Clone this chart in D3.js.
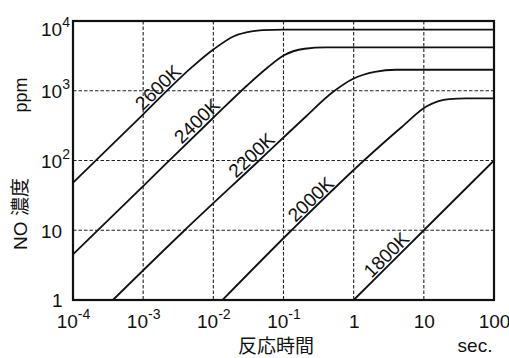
<!DOCTYPE html>
<html>
<head>
<meta charset="utf-8">
<script src="https://cdn.jsdelivr.net/npm/d3@7"></script>
<style>
  html, body { margin: 0; padding: 0; background: #fff; }
  svg { display: block; font-family: "Liberation Sans", Arial, sans-serif; }
</style>
</head>
<body>
<svg id="chart" width="509" height="358"></svg>
<script>
// NO formation vs. reaction time at several flame temperatures (log-log).
const xTickValues = [1e-4, 1e-3, 1e-2, 1e-1, 1, 10, 100];
const xTickBase = ["10", "10", "10", "10", "1", "10", "100"];
const xTickExp = ["-4", "-3", "-2", "-1", "", "", ""];
const yTickValues = [1, 10, 100, 1000, 10000];
const yTickBase = ["1", "10", "10", "10", "10"];
const yTickExp = ["", "", "2", "3", "4"];

const temperatures = ["2600K", "2400K", "2200K", "2000K", "1800K"];

// reaction time [s] and NO concentration [ppm] per temperature
const time2600 = [1e-4, 1e-3, 5e-3, 0.01, 0.02, 0.035, 0.05, 0.1, 100];
const no2600 = [48, 460, 2200, 3900, 6100, 7100, 7400, 7500, 7500];
const time2400 = [1e-4, 1e-3, 1e-2, 0.03, 0.06, 0.1, 0.2, 0.4, 100];
const no2400 = [4.5, 43, 410, 1180, 2170, 3200, 4000, 4200, 4200];
const time2200 = [3.7e-4, 3.9e-3, 0.045, 0.2, 0.5, 1, 2, 4, 100];
const no2200 = [1, 10, 100, 410, 950, 1500, 1870, 2000, 2000];
const time2000 = [0.0135, 0.13, 1.4, 4.8, 11, 23, 40, 100];
const no2000 = [1, 10, 100, 300, 600, 760, 780, 780];
const time1800 = [1, 10, 100];
const no1800 = [1, 10, 100];

// reaction time at which each temperature label sits along its curve
const labelTimes = [2.0e-3, 7.2e-3, 0.043, 0.3, 3.6];

const seriesTimes = [time2600, time2400, time2200, time2000, time1800];
const seriesNO = [no2600, no2400, no2200, no2000, no1800];

const svg = d3.select("#chart");
svg.append("rect").attr("width", 509).attr("height", 358).attr("fill", "#fff");

const plotLeft = 73, plotRight = 494, plotTop = 21, plotBottom = 300;
const x = d3.scaleLog().domain([1e-4, 100]).range([plotLeft, plotRight]);
const y = d3.scaleLog().domain([1, 1e4]).range([plotBottom, plotTop]);

// dashed grid
const grid = svg.append("g").attr("stroke", "#222").attr("stroke-width", 1.1)
  .attr("stroke-dasharray", "3.5,2");
grid.selectAll("line.v").data(xTickValues.slice(1, -1)).join("line").attr("class", "v")
  .attr("x1", d => x(d)).attr("x2", d => x(d)).attr("y1", plotTop).attr("y2", plotBottom);
grid.selectAll("line.h").data(yTickValues.slice(1, -1)).join("line").attr("class", "h")
  .attr("y1", d => y(d)).attr("y2", d => y(d)).attr("x1", plotLeft).attr("x2", plotRight);

// curves
const line = d3.line().x(d => x(d[0])).y(d => y(d[1])).curve(d3.curveMonotoneX);
const series = temperatures.map((name, i) => ({
  name,
  pts: seriesTimes[i].map((t, j) => [t, seriesNO[i][j]]),
  labelT: labelTimes[i]
}));
svg.append("g").selectAll("path").data(series).join("path")
  .attr("d", d => line(d.pts))
  .attr("fill", "none").attr("stroke", "#111").attr("stroke-width", 1.8);

// curve labels, rotated along each line and lifted just above it
function noAt(pts, t) {
  const lt = Math.log10(t);
  for (let k = 0; k < pts.length - 1; k++) {
    const a = Math.log10(pts[k][0]), b = Math.log10(pts[k + 1][0]);
    if (lt >= a && lt <= b) {
      const f = (lt - a) / (b - a);
      return Math.pow(10, Math.log10(pts[k][1]) + f * (Math.log10(pts[k + 1][1]) - Math.log10(pts[k][1])));
    }
  }
  return pts[pts.length - 1][1];
}
svg.append("g").selectAll("text").data(series).join("text")
  .attr("transform", d => {
    const px = x(d.labelT), py = y(noAt(d.pts, d.labelT));
    const px2 = x(d.labelT * 1.5), py2 = y(noAt(d.pts, d.labelT * 1.5));
    const ang = Math.atan2(py2 - py, px2 - px) * 180 / Math.PI;
    return `translate(${px},${py}) rotate(${ang}) translate(0,-2.5)`;
  })
  .attr("text-anchor", "middle")
  .attr("font-size", 19)
  .attr("fill", "#111")
  .text(d => d.name);

// axes with superscript tick labels
const xAxis = d3.axisBottom(x).tickValues(xTickValues).tickSize(0).tickPadding(15).tickFormat(() => "");
const gx = svg.append("g").attr("transform", `translate(0,${plotBottom})`).call(xAxis);
gx.select(".domain").remove();
gx.selectAll(".tick text").each(function (d, i) {
  const t = d3.select(this).attr("font-size", 19).attr("fill", "#111")
    .attr("font-family", "Liberation Sans, Arial, sans-serif");
  t.append("tspan").text(xTickBase[i]);
  if (xTickExp[i]) t.append("tspan").attr("font-size", 14).attr("dy", -9).text(xTickExp[i]);
});

const yAxis = d3.axisLeft(y).tickValues(yTickValues).tickSize(0).tickPadding(3).tickFormat(() => "");
const gy = svg.append("g").attr("transform", `translate(${plotLeft},0)`).call(yAxis);
gy.select(".domain").remove();
gy.selectAll(".tick text").each(function (d, i) {
  const t = d3.select(this).attr("font-size", 19).attr("fill", "#111")
    .attr("font-family", "Liberation Sans, Arial, sans-serif")
    .attr("text-anchor", "start")
    .attr("x", yTickBase[i] === "1" ? -21 : -32)
    .attr("dy", i === yTickValues.length - 1 ? "0.75em" : "0.36em");
  t.append("tspan").text(yTickBase[i]);
  if (yTickExp[i]) t.append("tspan").attr("font-size", 14).attr("dy", -9).text(yTickExp[i]);
});

// frame
svg.append("rect").attr("x", plotLeft).attr("y", plotTop)
  .attr("width", plotRight - plotLeft).attr("height", plotBottom - plotTop)
  .attr("fill", "none").attr("stroke", "#111").attr("stroke-width", 2.2);

// axis titles
svg.append("text").attr("x", 276).attr("y", 353).attr("text-anchor", "middle")
  .attr("font-size", 19).attr("fill", "#111")
  .attr("font-family", "Noto Sans CJK JP, sans-serif").text("反応時間");
svg.append("text").attr("x", 475).attr("y", 352).attr("text-anchor", "middle")
  .attr("font-size", 19).attr("fill", "#111").text("sec.");
svg.append("text").attr("transform", "translate(27,214) rotate(-90)").attr("text-anchor", "middle")
  .attr("font-size", 19).attr("fill", "#111")
  .attr("font-family", "Liberation Sans, Noto Sans CJK JP, sans-serif").text("NO 濃度");
svg.append("text").attr("transform", "translate(27,95) rotate(-90)").attr("text-anchor", "middle")
  .attr("font-size", 18).attr("fill", "#111").text("ppm");
</script>
</body>
</html>
